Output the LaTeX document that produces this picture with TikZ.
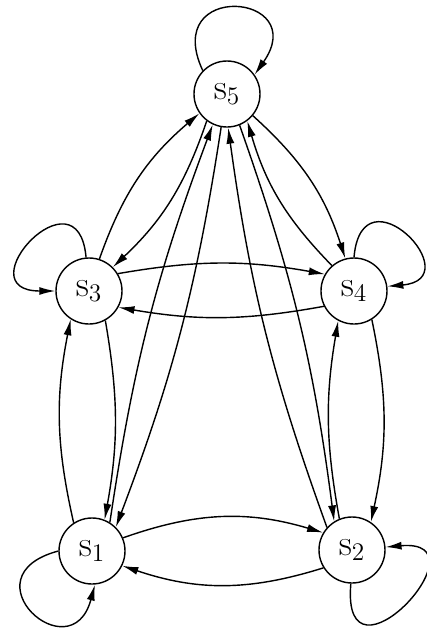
\documentclass[tikz,border=0pt]{standalone}
\usetikzlibrary{arrows.meta}
\begin{document}
\begin{tikzpicture}[x=0.2mm,y=0.2mm,
  state/.style={draw,circle,line width=0.8pt,minimum size=13.2mm,inner sep=0pt,
    font=\fontsize{21}{25}\selectfont},
  arc/.style={line width=0.8pt,-{Latex[length=3.2mm,width=1.6mm]}}]
  \useasboundingbox (0,0) rectangle (427,-628);
  % states
  \node[state] (s5) at (227,-94)  {$\mathrm{s}_5$};
  \node[state] (s3) at (89,-291)  {$\mathrm{s}_3$};
  \node[state] (s4) at (354,-291) {$\mathrm{s}_4$};
  \node[state] (s1) at (92,-551)  {$\mathrm{s}_1$};
  \node[state] (s2) at (352,-550) {$\mathrm{s}_2$};
  % self loops
  \draw[arc] (s5.136) .. controls +(115:100) and +(55:100) .. (s5.35);
  \draw[arc] (s3.95) .. controls +(95:92) and +(180:92) .. (s3.180);
  \draw[arc] (s4.90) .. controls +(85:92) and +(5:84) .. (s4.8);
  \draw[arc] (s1.180) .. controls +(195:98) and +(-105:92) .. (s1.-85);
  \draw[arc] (s2.-92) .. controls +(-95:115) and +(5:105) .. (s2.5);
  % neighbours
  \draw[arc] (s1.23) to[bend left=18] (s2.149);
  \draw[arc] (s2.212) to[bend left=18] (s1.-26);
  \draw[arc] (s3.31) to[bend left=10] (s4.150);
  \draw[arc] (s4.207) to[bend left=10] (s3.-29);
  \draw[arc] (s1.123) to[bend left=12] (s3.237);
  \draw[arc] (s3.-61) to[bend left=10] (s1.68);
  \draw[arc] (s2.112) to[bend left=10] (s4.242);
  \draw[arc] (s4.-58) to[bend left=12] (s2.56);
  % to and from s5
  \draw[arc] (s3.72) to[bend left=15] (s5.215);
  \draw[arc] (s5.233) to[bend left=14] (s3.45);
  \draw[arc] (s5.-40) to[bend left=15] (s4.105);
  \draw[arc] (s4.131) to[bend left=14] (s5.-53);
  \draw[arc] (s1.58) to[bend left=6] (s5.245);
  \draw[arc] (s5.260) to[bend left=6] (s1.45);
  \draw[arc] (s2.138) to[bend left=6] (s5.272);
  \draw[arc] (s5.292) to[bend left=6] (s2.122);
\end{tikzpicture}
\end{document}
